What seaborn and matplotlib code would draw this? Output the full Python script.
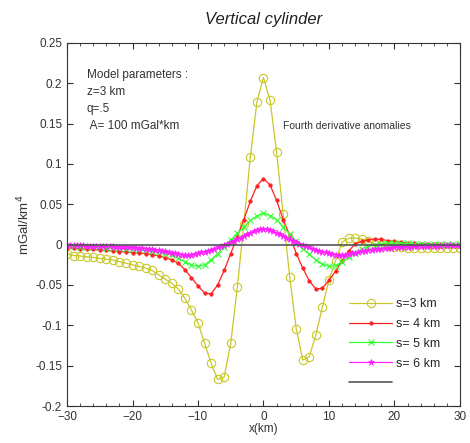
import numpy as np
import matplotlib
matplotlib.use('Agg')
import matplotlib.pyplot as plt
import seaborn as sns

# x positions (km)
x_km = list(range(-30, 31))
x_half = [v / 2 for v in range(-60, 61)]

s3 = [-0.011, -0.0135, -0.014, -0.015, -0.0157, -0.017, -0.018, -0.019, -0.021, -0.023,
      -0.025, -0.027, -0.029, -0.032, -0.0376, -0.0426, -0.048, -0.055, -0.0665, -0.081,
      -0.097, -0.122, -0.147, -0.167, -0.164, -0.122, -0.053, 0.026, 0.109, 0.177,
      0.207,
      0.179, 0.115, 0.038, -0.040, -0.104, -0.143, -0.139, -0.112, -0.077, -0.044,
      -0.020, 0.003, 0.008, 0.0083, 0.007, 0.004, 0.001, -0.001, -0.002, -0.003,
      -0.0035, -0.004, -0.004, -0.0045, -0.0045, -0.0045, -0.0045, -0.0045, -0.0045, -0.0045]

s4 = [-0.004, -0.0045, -0.005, -0.0055, -0.006, -0.0065, -0.007, -0.0078, -0.0085, -0.009,
      -0.0098, -0.0105, -0.011, -0.0122, -0.014, -0.016, -0.019, -0.023, -0.031, -0.041,
      -0.051, -0.060, -0.061, -0.050, -0.032, -0.011, 0.010, 0.031, 0.054, 0.073,
      0.082,
      0.074, 0.055, 0.031, 0.012, -0.011, -0.029, -0.045, -0.055, -0.054, -0.044,
      -0.033, -0.020, -0.008, 0.001, 0.004, 0.006, 0.007, 0.0065, 0.005, 0.004,
      0.003, 0.002, 0.0015, 0.001, 0.001, 0.0005, 0.0005, 0.0, 0.0, 0.0]

s5 = [-0.002, -0.0022, -0.0025, -0.0028, -0.003, -0.0033, -0.0037, -0.004, -0.0045, -0.005,
      -0.0055, -0.006, -0.007, -0.008, -0.0095, -0.011, -0.013, -0.017, -0.021, -0.025,
      -0.027, -0.025, -0.019, -0.011, -0.0025, 0.006, 0.014, 0.022, 0.030, 0.0355,
      0.039,
      0.036, 0.031, 0.022, 0.013, 0.004, -0.005, -0.012, -0.019, -0.024, -0.027,
      -0.026, -0.021, -0.015, -0.010, -0.005, -0.002, 0.000, 0.001, 0.002, 0.002,
      0.0018, 0.0015, 0.0012, 0.001, 0.0008, 0.0006, 0.0005, 0.0004, 0.0003, 0.0002]

s6 = [-0.0005, -0.0006, -0.0007, -0.0008, -0.0009, -0.0010, -0.0011, -0.0012, -0.0013, -0.0014,
      -0.0015, -0.0016, -0.0017, -0.0019, -0.0021, -0.0023, -0.0025, -0.0027, -0.0029, -0.0031,
      -0.0034, -0.0037, -0.0040, -0.0044, -0.0048, -0.0053, -0.0058, -0.0064, -0.0070, -0.0077,
      -0.0084, -0.0092, -0.0100, -0.0108, -0.0116, -0.0122, -0.0126, -0.0126, -0.0122, -0.0115,
      -0.0106, -0.0096, -0.0085, -0.0073, -0.0061, -0.0048, -0.0035, -0.0021, -0.0008, 0.0010,
      0.0028, 0.0047, 0.0066, 0.0086, 0.0106, 0.0126, 0.0146, 0.0164, 0.0180, 0.0192,
      0.0197,
      0.0192, 0.0180, 0.0164, 0.0146, 0.0126, 0.0106, 0.0086, 0.0066, 0.0047, 0.0028,
      0.0010, -0.0008, -0.0021, -0.0035, -0.0048, -0.0061, -0.0073, -0.0085, -0.0096, -0.0106,
      -0.0115, -0.0122, -0.0126, -0.0126, -0.0122, -0.0116, -0.0108, -0.0100, -0.0092, -0.0084,
      -0.0077, -0.0070, -0.0064, -0.0058, -0.0053, -0.0048, -0.0044, -0.0040, -0.0037, -0.0034,
      -0.0031, -0.0029, -0.0027, -0.0025, -0.0023, -0.0021, -0.0019, -0.0017, -0.0016, -0.0015,
      -0.0014, -0.0013, -0.0012, -0.0011, -0.0010, -0.0009, -0.0008, -0.0007, -0.0006, -0.0005]

zero_x = [-30, 30]
zero_y = [0, 0]

labels = ['s=3 km', 's= 4 km', 's= 5 km', 's= 6 km', ' ']

sns.set_style('ticks')
plt.rcParams['font.family'] = ['Liberation Sans', 'DejaVu Sans']

fig = plt.figure(figsize=(4.7, 4.43), dpi=100)
ax = fig.add_axes([0.1426, 0.0835, 0.836, 0.8195])

yel, red, grn, mag = '#c8c828', '#ff2020', '#33ff33', '#ff22ff'
sns.lineplot(x=x_km, y=s3, ax=ax, color=yel, lw=0.9, marker='o', ms=6,
             mfc='none', mec=yel, mew=0.8)
sns.lineplot(x=x_km, y=s4, ax=ax, color=red, lw=0.9, marker='.', ms=5,
             mfc=red, mec=red, mew=0.5)
sns.lineplot(x=x_km, y=s5, ax=ax, color=grn, lw=0.9, marker='x', ms=5,
             mec=grn, mew=0.8)
sns.lineplot(x=x_half, y=s6, ax=ax, color=mag, lw=0.9, marker='*', ms=5,
             mfc=mag, mec=mag, mew=0.5)
sns.lineplot(x=zero_x, y=zero_y, ax=ax, color='#555555', lw=1.2)

handles = ax.get_lines()
ax.legend(handles, labels, loc='lower left', bbox_to_anchor=(0.69, 0.015),
          frameon=False, fontsize=9, handlelength=3.4, handletextpad=0.3,
          labelspacing=0.62)

ax.set_xlim(-30, 30)
ax.set_ylim(-0.2, 0.25)
ax.set_xticks(np.arange(-30, 31, 10))
ax.set_xticks(np.arange(-30, 31, 2), minor=True)
ax.set_yticks(np.arange(-0.2, 0.251, 0.05))
ax.set_yticklabels(['-0.2', '-0.15', '-0.1', '-0.05', '0', '0.05', '0.1', '0.15', '0.2', '0.25'])
ax.tick_params(which='both', direction='in', top=True, right=True, colors='#333333',
               labelsize=8.5, labelcolor='#333333')
ax.tick_params(which='major', length=4)
ax.tick_params(which='minor', length=2.5)
for sp in ax.spines.values():
    sp.set_color('#333333')
    sp.set_linewidth(0.8)

ax.set_xlabel('x(km)', fontsize=8.5, labelpad=0, color='#333333')
ax.set_ylabel('mGal/km$^4$', fontsize=9.5, labelpad=2, color='#333333')
ax.set_title('Vertical cylinder', fontsize=12, style='italic', pad=14, color='#222222')

ax.text(-27.0, 0.2175, 'Model parameters :\nz=3 km\nq=.5\n A= 100 mGal*km', fontsize=8.5,
        va='top', ha='left', linespacing=1.55, color='#333333')
ax.text(3.0, 0.147, 'Fourth derivative anomalies', fontsize=7.5, va='center', ha='left',
        color='#333333')

fig.savefig('out.png', dpi=100)
